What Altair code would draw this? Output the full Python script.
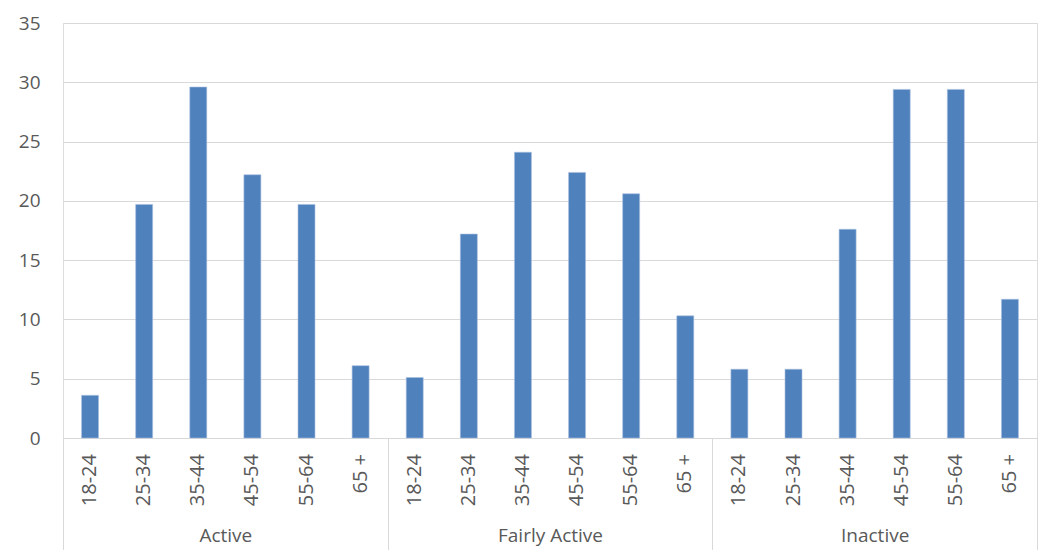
import altair as alt
import pandas as pd

groups = ["Active", "Fairly Active", "Inactive"]
ages = ["18-24", "25-34", "35-44", "45-54", "55-64", "65 +"]
active = [3.6, 19.7, 29.6, 22.2, 19.7, 6.1]
fairly_active = [5.1, 17.2, 24.1, 22.4, 20.6, 10.3]
inactive = [5.8, 5.8, 17.6, 29.4, 29.4, 11.7]
y_ticks = [0, 5, 10, 15, 20, 25, 30, 35]

rows = []
for g, vals in zip(groups, [active, fairly_active, inactive]):
    for a, v in zip(ages, vals):
        rows.append({"group": g, "age": a, "value": v})
df = pd.DataFrame(rows)

W, H = 974, 415
FONT = "Open Sans"
TXT = "#595959"
GRID = "#d9d9d9"

x_enc = alt.X(
    "group:N",
    sort=groups,
    scale=alt.Scale(paddingInner=0, paddingOuter=0),
    axis=alt.Axis(
        title=None,
        tickBand="extent",
        tickSize=120,
        tickColor=GRID,
        tickWidth=1,
        domainColor=GRID,
        domainWidth=1,
        labelFont=FONT,
        labelFontSize=19,
        labelColor=TXT,
        labelPadding=-32,
        labelAngle=0,
        grid=False,
    ),
)
xoff_enc = alt.XOffset(
    "age:N", sort=ages, scale=alt.Scale(paddingInner=0.686, paddingOuter=0.343)
)

bars = alt.Chart(df).mark_bar(color="#4F81BD", stroke="#a9c0df", strokeWidth=0.6).encode(
    x=x_enc,
    xOffset=xoff_enc,
    y=alt.Y(
        "value:Q",
        scale=alt.Scale(domain=[0, 35], nice=False),
        axis=alt.Axis(
            title=None,
            values=y_ticks,
            ticks=False,
            domain=False,
            gridColor=GRID,
            gridWidth=1,
            labelFont=FONT,
            labelFontSize=19,
            labelColor=TXT,
            labelPadding=23,
        ),
    ),
)

age_labels = alt.Chart(df).mark_text(
    angle=270, align="right", baseline="middle", font=FONT, fontSize=20, color=TXT
).encode(
    x=alt.X("group:N", sort=groups),
    xOffset=alt.XOffset("age:N", sort=ages),
    y=alt.value(H + 16),
    text="age:N",
)

chart = (
    alt.layer(bars, age_labels)
    .properties(
        width=W,
        height=H,
        autosize=alt.AutoSizeParams(type="none"),
        padding={"left": 55, "top": 15, "right": 2, "bottom": 112},
    )
    .configure_view(stroke=None)
    .configure(background="white")
)

chart.save("out.html", embed_options={"renderer": "svg", "actions": False})
